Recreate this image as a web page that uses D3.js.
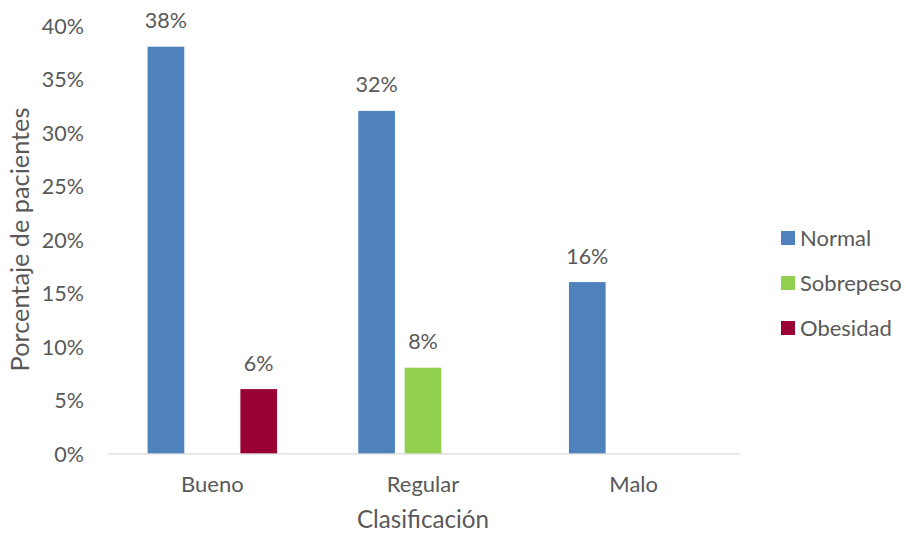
<!DOCTYPE html>
<html>
<head>
<meta charset="utf-8">
<script src="https://cdn.jsdelivr.net/npm/d3@7"></script>
<style>
  html, body { margin: 0; padding: 0; background: #ffffff; }
  svg { display: block; }
  text { font-family: Lato, "Liberation Sans", sans-serif; fill: #595959; }
</style>
</head>
<body>
<svg id="chart" width="906" height="533"></svg>
<script>
const categories = ["Bueno", "Regular", "Malo"];
const seriesNames = ["Normal", "Sobrepeso", "Obesidad"];
const normalValues = [0.38, 0.32, 0.16];
const sobrepesoValues = [null, 0.08, null];
const obesidadValues = [0.06, null, null];
const yTicks = [0, 0.05, 0.10, 0.15, 0.20, 0.25, 0.30, 0.35, 0.40];
const colors = ["#4F81BD", "#92D050", "#990033"];
const yTitle = "Porcentaje de pacientes";
const xTitle = "Clasificación";

const seriesValues = [normalValues, sobrepesoValues, obesidadValues];

const svg = d3.select("#chart");
const plot = { left: 107, right: 739, top: 25.3, bottom: 453.3 };

const x0 = d3.scaleBand().domain(categories).range([plot.left, plot.right]).paddingInner(0).paddingOuter(0);
const groupPad = 40.6;
const x1 = d3.scaleBand().domain(seriesNames)
  .range([groupPad, x0.bandwidth() - groupPad]).paddingInner(0.209).paddingOuter(0);
const y = d3.scaleLinear().domain([0, 0.40]).range([plot.bottom, plot.top]);
const color = d3.scaleOrdinal().domain(seriesNames).range(colors);
const fmt = d3.format(".0%");

// y axis labels (no line, no gridlines)
const yAxis = d3.axisLeft(y).tickValues(yTicks).tickFormat(fmt).tickSize(0).tickPadding(0);
const yg = svg.append("g").attr("transform", `translate(84,0)`).call(yAxis);
yg.select(".domain").remove();
yg.selectAll("text").attr("font-size", 21.5).attr("fill", "#595959")
  .style("font-family", "Lato, 'Liberation Sans', sans-serif").attr("dy", "0.36em");

// x axis
const xAxis = d3.axisBottom(x0).tickSize(0).tickPadding(0);
const xg = svg.append("g").attr("transform", `translate(0,${plot.bottom})`).call(xAxis);
xg.select(".domain").attr("stroke", "#D9D9D9").attr("stroke-width", 1.3);
xg.selectAll("text").attr("font-size", 22).attr("fill", "#595959")
  .style("font-family", "Lato, 'Liberation Sans', sans-serif").attr("y", 39).attr("dy", 0);

// bars
const data = [];
categories.forEach((c, i) => {
  seriesNames.forEach((s, j) => {
    const v = seriesValues[j][i];
    if (v != null) data.push({ cat: c, series: s, value: v });
  });
});

const bars = svg.append("g");
bars.selectAll("rect").data(data).join("rect")
  .attr("x", d => x0(d.cat) + x1(d.series))
  .attr("y", d => y(d.value))
  .attr("width", x1.bandwidth())
  .attr("height", d => y(0) - y(d.value))
  .attr("fill", d => color(d.series));

bars.selectAll("text.lbl").data(data).join("text")
  .attr("class", "lbl")
  .attr("x", d => x0(d.cat) + x1(d.series) + x1.bandwidth() / 2)
  .attr("y", d => y(d.value) - 18.5)
  .attr("text-anchor", "middle")
  .attr("font-size", 21.5)
  .text(d => fmt(d.value));

// axis titles
svg.append("text")
  .attr("transform", `translate(28.5,239.5) rotate(-90)`)
  .attr("text-anchor", "middle")
  .attr("font-size", 25.3)
  .text(yTitle);

svg.append("text")
  .attr("x", (plot.left + plot.right) / 2)
  .attr("y", 528)
  .attr("text-anchor", "middle")
  .attr("font-size", 24.2)
  .text(xTitle);

// legend
const legend = svg.append("g").attr("transform", "translate(781,238)");
const li = legend.selectAll("g").data(seriesNames).join("g")
  .attr("transform", (d, i) => `translate(0,${i * 45})`);
li.append("rect").attr("x", 0).attr("y", -7).attr("width", 14).attr("height", 14)
  .attr("fill", d => color(d));
li.append("text").attr("x", 19).attr("y", 0).attr("dy", "0.36em")
  .attr("font-size", 22).text(d => d);
</script>
</body>
</html>
